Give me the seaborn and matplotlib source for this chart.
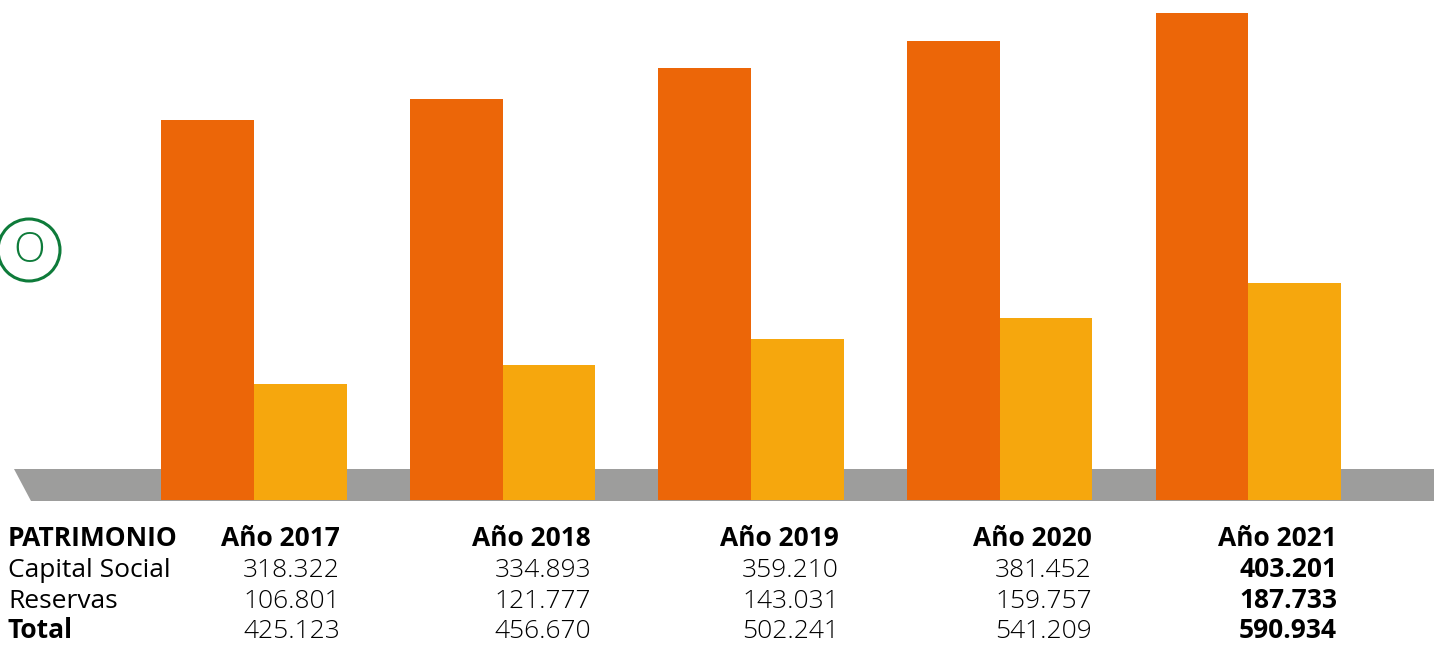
import pandas as pd
import seaborn as sns
from matplotlib import pyplot as plt
from matplotlib.patches import Polygon, Circle

# Datos del patrimonio (miles)
years = ['Año 2017', 'Año 2018', 'Año 2019', 'Año 2020', 'Año 2021']
capital_social = [318.322, 334.893, 359.210, 381.452, 403.201]
reservas = [106.801, 121.777, 143.031, 159.757, 187.733]
total = [425.123, 456.670, 502.241, 541.209, 590.934]
row_labels = ['PATRIMONIO', 'Capital Social', 'Reservas', 'Total']

orange = '#EC6608'
yellow = '#F6A70D'
grey = '#9D9D9C'
green = '#0E7B3A'

df = pd.DataFrame({
    'year': years * 2,
    'value': capital_social + reservas,
    'serie': ['Capital Social'] * 5 + ['Reservas'] * 5,
})

W, H = 1434, 646
fig = plt.figure(figsize=(W / 100, H / 100), dpi=100)
ax = fig.add_axes([0, 146 / H, 1, 500 / H])

sns.barplot(data=df, x='year', y='value', hue='serie', palette=[orange, yellow],
            width=0.745, saturation=1, legend=False, ax=ax, zorder=3)
ax.set_ylim(14, 414)
ax.set_xlim(-1.022, 4.748)
ax.axis('off')

# Plataforma gris
band = Polygon([(14 / W, 1 - 469 / H), (1, 1 - 469 / H), (1, 1 - 501 / H), (31 / W, 1 - 501 / H)],
               closed=True, facecolor=grey, edgecolor='none',
               transform=fig.transFigure, zorder=0)
fig.add_artist(band)
ax.set_zorder(1)
ax.patch.set_alpha(0)

# Circulo verde
fig.add_artist(Circle((0.29, (H - 250) / 100), 0.31, transform=fig.dpi_scale_trans,
                      facecolor='none', edgecolor=green, lw=2.2))
fig.text(0.29 / (W / 100), (H - 251) / H, 'O', color=green, fontsize=30,
         fontweight='light', ha='center', va='center', family='Open Sans')

# Tabla inferior (lineas base)
row_y = [546, 577, 608, 638]
col_x = [340, 591, 839, 1092, 1337]
font = dict(family='Open Sans', fontsize=19, va='baseline')
for i, lab in enumerate(row_labels):
    bold = i in (0, 3)
    fig.text(8 / W, 1 - row_y[i] / H, lab, ha='left',
             fontweight='bold' if bold else 'normal', **font)
for j, yr in enumerate(years):
    x = col_x[j] / W
    fig.text(x, 1 - row_y[0] / H, yr, ha='right', fontweight='bold', **font)
    for i, vals in enumerate([capital_social, reservas, total]):
        txt = f'{vals[j]:.3f}'
        fig.text(x, 1 - row_y[i + 1] / H, txt, ha='right',
                 fontweight='bold' if j == 4 else 'light', **font)

fig.savefig('out.png', dpi=100)
